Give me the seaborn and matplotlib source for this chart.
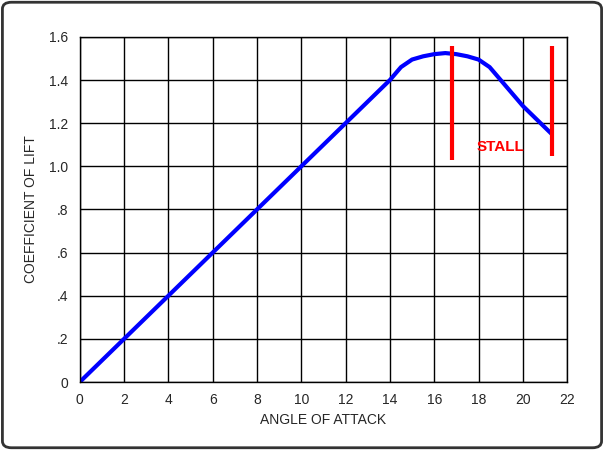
import matplotlib
matplotlib.use("Agg")
import matplotlib.pyplot as plt
from matplotlib.patches import FancyBboxPatch
import seaborn as sns

# lift curve
angle = [0, 2, 4, 6, 8, 10, 12, 14, 14.5, 15, 15.5, 16, 16.5, 17, 17.5, 18, 18.5, 19, 19.5, 20, 20.5, 21, 21.3]
lift = [0, 0.2, 0.4, 0.6, 0.8, 1.0, 1.2, 1.4, 1.46, 1.495, 1.51, 1.52, 1.525, 1.52, 1.51, 1.495, 1.46, 1.40, 1.34, 1.28, 1.23, 1.18, 1.15]

stall_x = [16.8, 21.3]
stall_lo = [1.03, 1.05]
stall_hi = [1.56, 1.56]

xticks = list(range(0, 23, 2))
yticks = [0, 0.2, 0.4, 0.6, 0.8, 1.0, 1.2, 1.4, 1.6]
ylabels = ["0", ".2", ".4", ".6", ".8", "1.0", "1.2", "1.4", "1.6"]

sns.set_style("white")
plt.rcParams["font.family"] = ["Liberation Sans", "DejaVu Sans"]

fig = plt.figure(figsize=(6.04, 4.5), dpi=100)
fig.patches.append(FancyBboxPatch((0.004, 0.005), 0.992, 0.99, boxstyle="round,pad=0,rounding_size=0.015",
                                  transform=fig.transFigure, fill=False, edgecolor="#333333", linewidth=2))
ax = fig.add_axes([0.132, 0.151, 0.807, 0.767])

sns.lineplot(x=angle, y=lift, ax=ax, color="#0000ff", linewidth=3, estimator=None, sort=False)
for x, lo, hi in zip(stall_x, stall_lo, stall_hi):
    ax.vlines(x, lo, hi, color="#ff0000", linewidth=3)
ax.text(19.0, 1.09, "STALL", color="#ff0000", fontsize=11, fontweight="bold", ha="center", va="center")

ax.set_xlim(0, 22)
ax.set_ylim(0, 1.6)
ax.set_xticks(xticks)
ax.set_yticks(yticks)
ax.set_yticklabels(ylabels)
ax.grid(True, color="black", linewidth=1)
for s in ax.spines.values():
    s.set_color("black")
    s.set_linewidth(1)
ax.tick_params(labelsize=10, length=0, pad=8)
ax.set_xlabel("ANGLE OF ATTACK", fontsize=10)
ax.set_ylabel("COEFFICIENT OF LIFT", fontsize=10, labelpad=8)

fig.savefig("out.png", dpi=100)
